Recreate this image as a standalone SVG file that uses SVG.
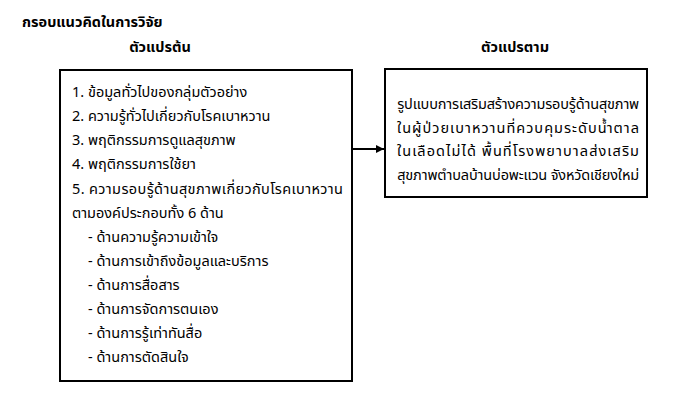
<svg xmlns="http://www.w3.org/2000/svg" width="685" height="408" viewBox="0 0 685 408">
<style>
text{font-family:"Noto Sans Thai","Tahoma","Noto Sans",sans-serif;fill:#000}
.h{font-weight:bold;font-size:14.5px}
.t{font-size:14.5px}
.box{fill:#fff;stroke:#000;stroke-width:2}
</style>
<defs>
<marker id="ah" viewBox="0 0 10 10" refX="10" refY="5" markerWidth="4" markerHeight="4" orient="auto" markerUnits="strokeWidth">
<path d="M0,0 L10,5 L0,10 z" fill="#000"/>
</marker>
</defs>
<rect width="685" height="408" fill="#fff"/>
<text class="h" x="22" y="27">กรอบแนวคิดในการวิจัย</text>
<text class="h" x="160" y="52" text-anchor="middle">ตัวแปรต้น</text>
<text class="h" x="515" y="52" text-anchor="middle">ตัวแปรตาม</text>
<g id="independent">
<rect class="box" x="60" y="70" width="292" height="311"/>
<text class="t" x="72" y="97">1. ข้อมูลทั่วไปของกลุ่มตัวอย่าง</text>
<text class="t" x="72" y="121">2. ความรู้ทั่วไปเกี่ยวกับโรคเบาหวาน</text>
<text class="t" x="72" y="145">3. พฤติกรรมการดูแลสุขภาพ</text>
<text class="t" x="72" y="169">4. พฤติกรรมการใช้ยา</text>
<text class="t" x="72" y="194" textLength="271" lengthAdjust="spacing">5. ความรอบรู้ด้านสุขภาพเกี่ยวกับโรคเบาหวาน</text>
<text class="t" x="72" y="218">ตามองค์ประกอบทั้ง  6 ด้าน</text>
<text class="t" x="88" y="242">- ด้านความรู้ความเข้าใจ</text>
<text class="t" x="88" y="266">- ด้านการเข้าถึงข้อมูลและบริการ</text>
<text class="t" x="88" y="290">- ด้านการสื่อสาร</text>
<text class="t" x="88" y="314">- ด้านการจัดการตนเอง</text>
<text class="t" x="88" y="338">- ด้านการรู้เท่าทันสื่อ</text>
<text class="t" x="88" y="362">- ด้านการตัดสินใจ</text>
</g>
<g id="dependent">
<rect class="box" x="385" y="69" width="262" height="128"/>
<text class="t" x="397" y="109" textLength="242" lengthAdjust="spacing">รูปแบบการเสริมสร้างความรอบรู้ด้านสุขภาพ</text>
<text class="t" x="397" y="133" textLength="242" lengthAdjust="spacing">ในผู้ป่วยเบาหวานที่ควบคุมระดับน้ำตาล</text>
<text class="t" x="397" y="156" textLength="242" lengthAdjust="spacing">ในเลือดไม่ได้  พื้นที่โรงพยาบาลส่งเสริม</text>
<text class="t" x="397" y="180" textLength="242" lengthAdjust="spacing">สุขภาพตำบลบ้านบ่อพะแวน จังหวัดเชียงใหม่</text>
</g>
<g id="connectors">
<line x1="352" y1="149" x2="384" y2="149" stroke="#000" stroke-width="2" marker-end="url(#ah)"/>
</g>
</svg>
